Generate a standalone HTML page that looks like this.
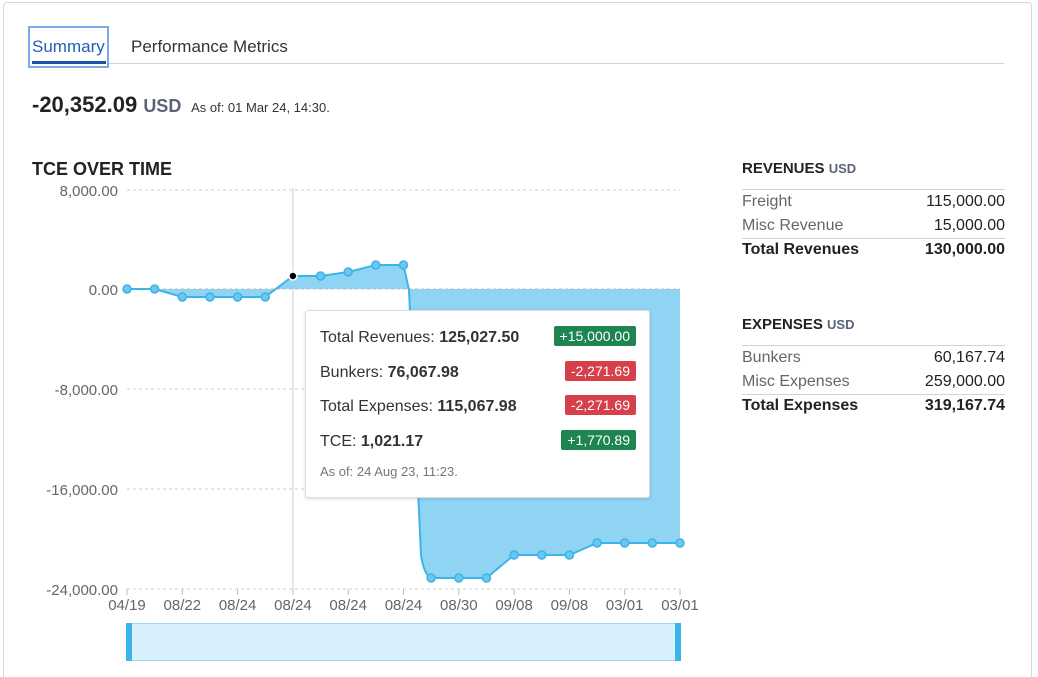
<!DOCTYPE html>
<html><head><meta charset="utf-8"><style>
html,body{margin:0;width:1038px;height:677px;overflow:hidden}
body{background:#fff;font-family:"Liberation Sans",sans-serif;position:relative;color:#222}
.a{position:absolute;white-space:nowrap}
.card{position:absolute;left:3px;top:2px;width:1029px;height:675px;border:1px solid #d6d6d6;border-bottom:none;border-radius:4px 4px 0 0;box-sizing:border-box}
.badge{position:absolute;right:13px;color:#fff;font-size:14px;padding:2px 6px;border-radius:2px}
.g{background:#1e8450}.r{background:#d6404a}
.row{position:absolute;left:742px;width:263px;font-size:16px}
.row span:last-child{float:right}
</style></head><body>
<div class="card"></div>
<div class="a" style="left:28px;top:26px;width:81px;height:42px;border:2px solid #7fa8e6;box-sizing:border-box"></div>
<div class="a" style="left:32px;top:37px;font-size:17px;color:#1e5fb8">Summary</div>
<div class="a" style="left:32px;top:61px;width:74px;height:3px;background:#1e4fa8"></div>
<div class="a" style="left:109px;top:63px;width:895px;height:1px;background:#c9d3e3"></div>
<div class="a" style="left:131px;top:37px;font-size:17px;color:#333">Performance Metrics</div>
<div class="a" style="left:32px;top:92px;font-size:22px;font-weight:bold;color:#222">-20,352.09 <span style="color:#5a6478;font-size:18px">USD</span> <span style="font-size:13px;font-weight:normal;color:#333">&nbsp;As of: 01 Mar 24, 14:30.</span></div>
<div class="a" style="left:32px;top:159px;font-size:18px;font-weight:bold">TCE OVER TIME</div>

<svg class="a" style="left:0;top:0" width="1038" height="677">
<g stroke="#ccc" stroke-dasharray="3,3" stroke-width="1">
<line x1="127" y1="190" x2="680" y2="190"/><line x1="127" y1="389" x2="680" y2="389"/><line x1="127" y1="489" x2="680" y2="489"/><line x1="127" y1="589" x2="680" y2="589"/>
</g>
<g fill="#666" font-size="15" text-anchor="end" font-family="Liberation Sans">
<text x="118" y="196">8,000.00</text><text x="118" y="295">0.00</text><text x="118" y="395">-8,000.00</text><text x="118" y="495">-16,000.00</text><text x="118" y="595">-24,000.00</text>
</g>
<line x1="293" y1="188" x2="293" y2="589" stroke="#ccc"/>
<path d="M127,289 L154.65,289 L182.3,297 L209.95,297 L237.6,297 L265.25,297 L292.9,276 L320.55,276 L348.2,272 L375.85,265 L403.5,265 L409,290 L421,555 Q424,575 431.15,578 L458.8,578 L486.45,578 L514.1,555 L541.75,555 L569.4,555 L597.05,543 L624.7,543 L652.35,543 L680,543 L680,289 Z" fill="#8fd4f2"/>
<line x1="127" y1="289" x2="680" y2="289" stroke="#bbb" stroke-dasharray="3,3"/>
<path d="M127,289 L154.65,289 L182.3,297 L209.95,297 L237.6,297 L265.25,297 L292.9,276 L320.55,276 L348.2,272 L375.85,265 L403.5,265 L409,290 L421,555 Q424,575 431.15,578 L458.8,578 L486.45,578 L514.1,555 L541.75,555 L569.4,555 L597.05,543 L624.7,543 L652.35,543 L680,543" fill="none" stroke="#3bb4e8" stroke-width="2"/>
<g fill="#6cc6ef" stroke="#3bb4e8" stroke-width="1.5">
<circle cx="127" cy="289" r="4"/><circle cx="154.65" cy="289" r="4"/><circle cx="182.3" cy="297" r="4"/><circle cx="209.95" cy="297" r="4"/><circle cx="237.6" cy="297" r="4"/><circle cx="265.25" cy="297" r="4"/><circle cx="320.55" cy="276" r="4"/><circle cx="348.2" cy="272" r="4"/><circle cx="375.85" cy="265" r="4"/><circle cx="403.5" cy="265" r="4"/><circle cx="431.15" cy="578" r="4"/><circle cx="458.8" cy="578" r="4"/><circle cx="486.45" cy="578" r="4"/><circle cx="514.1" cy="555" r="4"/><circle cx="541.75" cy="555" r="4"/><circle cx="569.4" cy="555" r="4"/><circle cx="597.05" cy="543" r="4"/><circle cx="624.7" cy="543" r="4"/><circle cx="652.35" cy="543" r="4"/><circle cx="680" cy="543" r="4"/>
</g>
<circle cx="292.9" cy="276" r="4" fill="#000" stroke="#fff" stroke-width="1.5"/>
<g stroke="#bbb"><line x1="127" y1="589" x2="127" y2="595"/><line x1="182.3" y1="589" x2="182.3" y2="595"/><line x1="237.6" y1="589" x2="237.6" y2="595"/><line x1="292.9" y1="589" x2="292.9" y2="595"/><line x1="348.2" y1="589" x2="348.2" y2="595"/><line x1="403.5" y1="589" x2="403.5" y2="595"/><line x1="458.8" y1="589" x2="458.8" y2="595"/><line x1="514.1" y1="589" x2="514.1" y2="595"/><line x1="569.4" y1="589" x2="569.4" y2="595"/><line x1="624.7" y1="589" x2="624.7" y2="595"/><line x1="680" y1="589" x2="680" y2="595"/></g>
<g fill="#666" font-size="15" text-anchor="middle" font-family="Liberation Sans">
<text x="127" y="610">04/19</text><text x="182.3" y="610">08/22</text><text x="237.6" y="610">08/24</text><text x="292.9" y="610">08/24</text><text x="348.2" y="610">08/24</text><text x="403.5" y="610">08/24</text><text x="458.8" y="610">08/30</text><text x="514.1" y="610">09/08</text><text x="569.4" y="610">09/08</text><text x="624.7" y="610">03/01</text><text x="680" y="610">03/01</text>
</g>
<rect x="127.5" y="623.5" width="553" height="37" fill="#d8f0fb" stroke="#9fd8f3"/>
<rect x="126" y="623" width="6" height="38" fill="#3bb4e8"/><rect x="675" y="623" width="6" height="38" fill="#3bb4e8"/>
</svg>

<div class="a" style="left:305px;top:310px;width:343px;height:186px;background:#fff;border:1px solid #ddd;border-radius:3px;box-shadow:0 1px 3px rgba(0,0,0,.15)">
<div class="a" style="left:14px;top:18px;font-size:16px;color:#333">Total Revenues: <b>125,027.50</b></div>
<div class="badge g" style="top:15px">+15,000.00</div>
<div class="a" style="left:14px;top:53px;font-size:16px;color:#333">Bunkers: <b>76,067.98</b></div>
<div class="badge r" style="top:50px">-2,271.69</div>
<div class="a" style="left:14px;top:87px;font-size:16px;color:#333">Total Expenses: <b>115,067.98</b></div>
<div class="badge r" style="top:84px">-2,271.69</div>
<div class="a" style="left:14px;top:122px;font-size:16px;color:#333">TCE: <b>1,021.17</b></div>
<div class="badge g" style="top:119px">+1,770.89</div>
<div class="a" style="left:14px;top:153px;font-size:13px;color:#777">As of: 24 Aug 23, 11:23.</div>
</div>

<div class="a" style="left:742px;top:160px;font-size:15px;font-weight:bold">REVENUES <span style="color:#5a6478;font-size:13px">USD</span></div>
<div class="a" style="left:742px;top:189px;width:263px;height:1px;background:#c9d3e3"></div>
<div class="row" style="top:193px"><span style="color:#666">Freight</span><span>115,000.00</span></div>
<div class="row" style="top:217px"><span style="color:#666">Misc Revenue</span><span>15,000.00</span></div>
<div class="a" style="left:742px;top:238px;width:263px;height:1px;background:#c9d3e3"></div>
<div class="row" style="top:241px;font-weight:bold"><span>Total Revenues</span><span>130,000.00</span></div>

<div class="a" style="left:742px;top:316px;font-size:15px;font-weight:bold">EXPENSES <span style="color:#5a6478;font-size:13px">USD</span></div>
<div class="a" style="left:742px;top:345px;width:263px;height:1px;background:#c9d3e3"></div>
<div class="row" style="top:349px"><span style="color:#666">Bunkers</span><span>60,167.74</span></div>
<div class="row" style="top:373px"><span style="color:#666">Misc Expenses</span><span>259,000.00</span></div>
<div class="a" style="left:742px;top:394px;width:263px;height:1px;background:#c9d3e3"></div>
<div class="row" style="top:397px;font-weight:bold"><span>Total Expenses</span><span>319,167.74</span></div>
</body></html>
